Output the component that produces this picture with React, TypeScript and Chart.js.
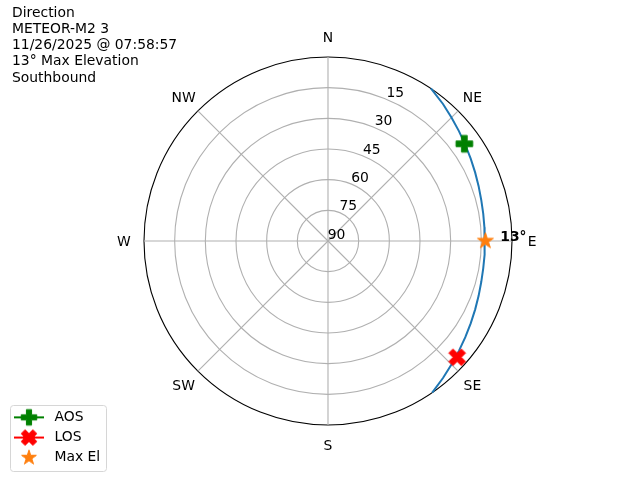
import React, { useEffect, useRef } from 'react';
import { Chart, registerables } from 'chart.js';

Chart.register(...registerables);

// ---------------- data ----------------
const titleLines = ['Direction', 'METEOR-M2 3', '11/26/2025 @ 07:58:57', '13° Max Elevation', 'Southbound'];
const compassLabels = ['N', 'NE', 'E', 'SE', 'S', 'SW', 'W', 'NW'];
const compassAz = [0, 45, 90, 135, 180, 225, 270, 315];
const elevationTicks = [15, 30, 45, 60, 75, 90];
const tickLabelAz = 22.5;

// satellite track (azimuth deg, elevation deg)
const passAz = [34, 40, 45, 50, 55, 60, 65, 70, 75, 80, 85, 90, 95, 100, 105, 110, 115, 120, 125, 130, 135, 140, 145.5];
const passEl = [0.0, 2.5, 4.6, 6.4, 8.0, 9.4, 10.6, 11.6, 12.4, 12.9, 13.2, 13.3, 13.2, 12.9, 12.4, 11.6, 10.6, 9.4, 8.0, 6.4, 4.6, 2.5, 0.0];

const aosAz = [54.5];
const aosEl = [8.1];
const losAz = [132];
const losEl = [5.0];
const maxElAz = [90];
const maxElEl = [13];
const maxElText = '13°';

const seriesNames = ['AOS', 'LOS', 'Max El', 'Pass'];
const seriesColors = ['#008000', '#ff0000', '#ff7f0e', '#1f77b4'];

// azimuth category axis: 0.5 degree steps
const AZ_STEP = 0.5;
const azLabels = Array.from({ length: 360 / AZ_STEP }, (_, i) => String(i * AZ_STEP));
const azIndex = (az: number) => Math.round(az / AZ_STEP) % azLabels.length;

function toSeries(az: number[], el: number[]) {
  const out: (number | null)[] = azLabels.map(() => null);
  az.forEach((a, i) => {
    out[azIndex(a)] = el[i];
  });
  return out;
}

const FONT = 'DejaVu Sans';
const FS = 13.9;
const CAP_HALF = 5.07; // half cap-height of DejaVu Sans at FS

// ---------------- marker shapes ----------------
function makeMarker(kind: 'plus' | 'x' | 'star', color: string, size: number, lineLen = 0, boxW = 0) {
  const w = Math.max(lineLen, boxW, Math.ceil(size + 4));
  const h = Math.ceil(size + 4);
  const c = document.createElement('canvas');
  c.width = w;
  c.height = h;
  const g = c.getContext('2d')!;
  const cx = w / 2;
  const cy = h / 2;
  if (lineLen) {
    g.strokeStyle = color;
    g.lineWidth = 2;
    g.beginPath();
    g.moveTo(0, cy);
    g.lineTo(w, cy);
    g.stroke();
  }
  let pts: number[][] = [];
  if (kind === 'plus') {
    pts = [[-1, -3], [1, -3], [1, -1], [3, -1], [3, 1], [1, 1], [1, 3], [-1, 3], [-1, 1], [-3, 1], [-3, -1], [-1, -1]].map(
      ([x, y]) => [x / 6, y / 6]
    );
  } else if (kind === 'x') {
    pts = [[-1, -2], [0, -1], [1, -2], [2, -1], [1, 0], [2, 1], [1, 2], [0, 1], [-1, 2], [-2, 1], [-1, 0], [-2, -1]].map(
      ([x, y]) => [x / 4, y / 4]
    );
  } else {
    for (let k = 0; k < 10; k++) {
      const r = k % 2 === 0 ? 0.5 : 0.5 * 0.381966;
      const a = (-90 + k * 36) * (Math.PI / 180);
      pts.push([r * Math.cos(a), r * Math.sin(a)]);
    }
  }
  g.beginPath();
  pts.forEach(([x, y], i) => {
    if (i === 0) g.moveTo(cx + x * size, cy + y * size);
    else g.lineTo(cx + x * size, cy + y * size);
  });
  g.closePath();
  g.fillStyle = color;
  g.fill();
  g.strokeStyle = color;
  g.lineWidth = 1;
  g.lineJoin = 'round';
  g.stroke();
  return c;
}

// ---------------- plugins ----------------
const openTrack = {
  id: 'openTrack',
  afterDatasetUpdate(chart: any, args: any) {
    const ds = chart.data.datasets[args.index];
    if (ds && ds.label === 'Pass') {
      const line = args.meta.dataset;
      if (line) {
        line._loop = false;
        line._fullLoop = false;
        line._segments = undefined;
        line._path = undefined;
      }
    }
  },
};

const legendFrame = {
  id: 'legendFrame',
  beforeDraw(chart: any) {
    const lg = chart.legend;
    if (!lg || !lg.legendHitBoxes || !lg.legendHitBoxes.length) return;
    const hb = lg.legendHitBoxes;
    const x0 = Math.round(hb[0].left) - 0.5;
    const x1 = Math.round(Math.max(...hb.map((b: any) => b.left + b.width)) + 6) + 0.5;
    const y0 = Math.round(hb[0].top - 5) + 0.5;
    const last = hb[hb.length - 1];
    const y1 = Math.round(last.top + last.height + 7) - 0.5;
    const ctx = chart.ctx;
    ctx.save();
    ctx.beginPath();
    ctx.roundRect(x0, y0, x1 - x0, y1 - y0, 3);
    ctx.fillStyle = 'rgba(255,255,255,0.8)';
    ctx.fill();
    ctx.strokeStyle = '#d6d6d6';
    ctx.lineWidth = 1;
    ctx.stroke();
    ctx.restore();
  },
};

const polarText = {
  id: 'polarText',
  afterDraw(chart: any) {
    const scale = chart.scales.r;
    const ctx = chart.ctx;
    ctx.save();
    ctx.fillStyle = '#000';
    ctx.font = `${FS}px "${FONT}"`;
    ctx.textAlign = 'left';
    ctx.textBaseline = 'alphabetic';
    titleLines.forEach((t, i) => ctx.fillText(t, 12, 16.5 + i * 16.25));

    ctx.textAlign = 'center';
    compassLabels.forEach((t, i) => {
      const p = scale.getPointPosition(azIndex(compassAz[i]), scale.drawingArea + 20.2);
      ctx.fillText(t, p.x, p.y + CAP_HALF);
    });
    elevationTicks.forEach((v) => {
      const p = scale.getPointPositionForValue(azIndex(tickLabelAz), v);
      ctx.fillText(String(v), p.x + 8.6, p.y - 7.3 + CAP_HALF);
    });

    ctx.font = `bold ${FS}px "${FONT}"`;
    ctx.textAlign = 'left';
    const m = scale.getPointPositionForValue(azIndex(maxElAz[0]), maxElEl[0]);
    ctx.fillText(maxElText, m.x + 14.8, m.y + 0.3);
    ctx.restore();
  },
};

export default function App() {
  const ref = useRef<HTMLCanvasElement>(null);

  useEffect(() => {
    const plotMarkers = [
      makeMarker('plus', seriesColors[0], 16.7),
      makeMarker('x', seriesColors[1], 16.7),
      makeMarker('star', seriesColors[2], 16.7),
    ];
    const legendIcons = [
      makeMarker('plus', seriesColors[0], 15.5, 30),
      makeMarker('x', seriesColors[1], 15.5, 30),
      makeMarker('star', seriesColors[2], 15.5, 0, 30),
    ];

    const markerSet = (i: number, az: number[], el: number[]) => ({
      label: seriesNames[i],
      data: toSeries(az, el),
      showLine: false,
      borderColor: seriesColors[i],
      backgroundColor: seriesColors[i],
      pointStyle: plotMarkers[i],
      pointRadius: 8,
      pointHoverRadius: 8,
      fill: false,
    });

    const chart = new Chart(ref.current!, {
      type: 'radar',
      data: {
        labels: azLabels,
        datasets: [
          markerSet(0, aosAz, aosEl),
          markerSet(1, losAz, losEl),
          markerSet(2, maxElAz, maxElEl),
          {
            label: seriesNames[3],
            data: toSeries(passAz, passEl),
            borderColor: seriesColors[3],
            backgroundColor: seriesColors[3],
            borderWidth: 2,
            pointRadius: 0,
            pointHoverRadius: 0,
            fill: false,
            spanGaps: true,
            tension: 0,
          },
        ],
      } as any,
      options: {
        responsive: false,
        animation: false,
        devicePixelRatio: 1,
        events: [],
        layout: { padding: { left: 4.2, right: 127.9, top: 12.4, bottom: 9 } },
        scales: {
          r: {
            min: 0,
            max: 90,
            reverse: true,
            startAngle: 0,
            ticks: { display: false, stepSize: 15 },
            pointLabels: { display: false },
            grid: {
              circular: true,
              color: (c: any) => (c.tick && c.tick.value === 0 ? '#000000' : '#b0b0b0'),
              lineWidth: 1.1,
            },
            angleLines: {
              display: true,
              color: '#b0b0b0',
              lineWidth: (c: any) => (c.index % 90 === 0 ? 1.1 : 0),
            },
          },
        },
        plugins: {
          legend: {
            position: 'left',
            align: 'end',
            labels: {
              usePointStyle: true,
              pointStyleWidth: 37,
              padding: 6.3,
              color: '#000',
              font: { family: FONT, size: FS },
              generateLabels: (ch: any) =>
                ch.data.datasets.slice(0, 3).map((d: any, i: number) => ({
                  text: d.label,
                  pointStyle: legendIcons[i],
                  datasetIndex: i,
                  fillStyle: 'transparent',
                  strokeStyle: 'transparent',
                  lineWidth: 0,
                  hidden: false,
                  fontColor: '#000',
                })),
            },
          },
          title: {
            display: true,
            position: 'left',
            text: '',
            weight: 500,
            padding: { top: 23.85, bottom: 0 },
            font: { size: 10, lineHeight: 1 },
          },
          tooltip: { enabled: false },
        },
      } as any,
      plugins: [openTrack, legendFrame, polarText],
    });
    return () => chart.destroy();
  }, []);

  return (
    <div style={{ position: 'absolute', left: 0, top: 0, width: 640, height: 480, background: '#fff' }}>
      <canvas ref={ref} width={640} height={480} style={{ display: 'block' }} />
    </div>
  );
}
